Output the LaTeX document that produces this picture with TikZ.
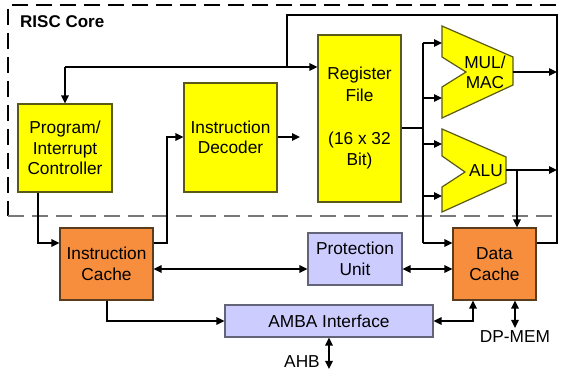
\documentclass[tikz,border=0pt]{standalone}
\usepackage{fontspec}
\setmainfont{Liberation Sans}
\usetikzlibrary{arrows.meta}
\definecolor{ylw}{RGB}{255,255,0}
\definecolor{ylwb}{RGB}{90,90,20}
\definecolor{org}{RGB}{246,142,62}
\definecolor{orgb}{RGB}{90,60,30}
\definecolor{lav}{RGB}{204,204,255}
\definecolor{lavb}{RGB}{100,100,120}
\definecolor{dashc}{RGB}{120,120,120}
\begin{document}
\begin{tikzpicture}[x=1pt,y=-1pt,
  blk/.style={draw, line width=1.2pt, inner sep=0pt, align=center,
    font=\fontsize{17.3}{20.5}\selectfont},
  yblk/.style={blk, fill=ylw, draw=ylwb},
  oblk/.style={blk, fill=org, draw=orgb},
  lblk/.style={blk, fill=lav, draw=lavb},
  wire/.style={line width=1.6pt, black},
  arr/.style={wire, -{Triangle[length=8pt,width=7.5pt]}},
  darr/.style={wire, {Triangle[length=8pt,width=7.5pt]}-{Triangle[length=8pt,width=7.5pt]}},
  bord/.style={dash pattern=on 16pt off 8pt, line width=1.8pt},
  lbl/.style={inner sep=0pt, font=\fontsize{17.3}{20}\selectfont}]
\useasboundingbox (0,0) rectangle (563,371);
\fill[white] (0,0) rectangle (563,371);
% dashed RISC core region
\draw[bord, black] (556,5) -- (8,5) -- (8,216);
\draw[bord, dashc] (8,216) -- (556,216);
\node[lbl, font=\fontsize{17}{20}\selectfont\bfseries, anchor=west] (risc) at (20,22) {RISC Core};
% blocks
\node[yblk, minimum width=94pt, minimum height=88pt] (pic) at (65,148) {Program/\\Interrupt\\Controller};
\node[yblk, minimum width=93pt, minimum height=109pt] (dec) at (230.5,137.5) {Instruction\\Decoder};
\node[yblk, minimum width=83pt, minimum height=167pt, font=\fontsize{17.3}{21.5}\selectfont] (reg) at (359.5,118.5) {Register\\File\\[21.5pt](16 x 32\\Bit)};
\node[oblk, minimum width=93pt, minimum height=72pt] (ic) at (106.5,264) {Instruction\\Cache};
\node[lblk, minimum width=94pt, minimum height=52pt] (prot) at (355,259) {Protection\\Unit};
\node[oblk, minimum width=83pt, minimum height=72pt] (dc) at (494.5,264) {Data\\Cache};
\node[lblk, minimum width=208pt, minimum height=32pt] (amba) at (329,321) {AMBA Interface};
% trapezoids
\draw[line width=1.2pt, fill=ylw, draw=ylwb] (442,26) -- (513,57) -- (513,85) -- (442,118) -- (442,87) -- (466,72) -- (442,57) -- cycle;
\node[lbl, align=center, font=\fontsize{17.3}{20}\selectfont] (mul) at (485,72) {MUL/\\MAC};
\draw[line width=1.2pt, fill=ylw, draw=ylwb] (442,129) -- (506,157) -- (506,183) -- (442,212) -- (442,187) -- (465,172) -- (442,156) -- cycle;
\node[lbl] (alu) at (486,171) {ALU};
% coordinates
\coordinate (mulout) at (513,72);
\coordinate (aluout) at (506,170);
\coordinate (bus) at (557,243);
\coordinate (fb) at (287,67);
% feedback loop
\draw[wire] (dc.east |- bus) -- (bus) -- (557,15) -- (287,15) -- (fb);
\draw[arr] (65,67) -- (reg.west |- fb);
\draw[arr] (65,67) -- (pic.north);
\draw[arr] (mulout) -- (557,72);
\draw[arr] (aluout) -- (557,170);
\draw[arr] (517,170) -- (517,0 |- dc.north);
% decoder to register file
\draw[arr] (dec.east |- 0,137) -- (300,137);
% register file to execution units
\draw[wire] (reg.east |- 0,128) -- (423,128);
\draw[wire] (423,43) -- (423,243);
\draw[arr] (423,43) -- (442,43);
\draw[arr] (423,98) -- (442,98);
\draw[arr] (423,144) -- (442,144);
\draw[arr] (423,196) -- (442,196);
\draw[arr] (423,243) -- (dc.west |- 0,243);
% PIC to instruction cache
\draw[arr] (38,0 |- pic.south) -- (38,243) -- (ic.west |- 0,243);
% instruction cache to decoder
\draw[arr] (ic.east |- 0,243) -- (167,243) -- (167,137) -- (dec.west |- 0,137);
% cache <-> protection
\draw[darr] (ic.east |- 0,269) -- (prot.west |- 0,269);
\draw[darr] (prot.east |- 0,269) -- (dc.west |- 0,269);
% IC to AMBA
\draw[arr] (107,0 |- ic.south) -- (107,321) -- (amba.west);
% AMBA <-> data cache
\draw[darr] (amba.east) -- (473,321) -- (473,0 |- dc.south);
% DP-MEM
\node[lbl] (dpmem) at (515,337) {DP-MEM};
\draw[darr] (515,0 |- dc.south) -- (515,328);
% AHB
\node[lbl] (ahb) at (302,362) {AHB};
\draw[darr] (329,0 |- amba.south) -- (329,369);
\end{tikzpicture}
\end{document}
